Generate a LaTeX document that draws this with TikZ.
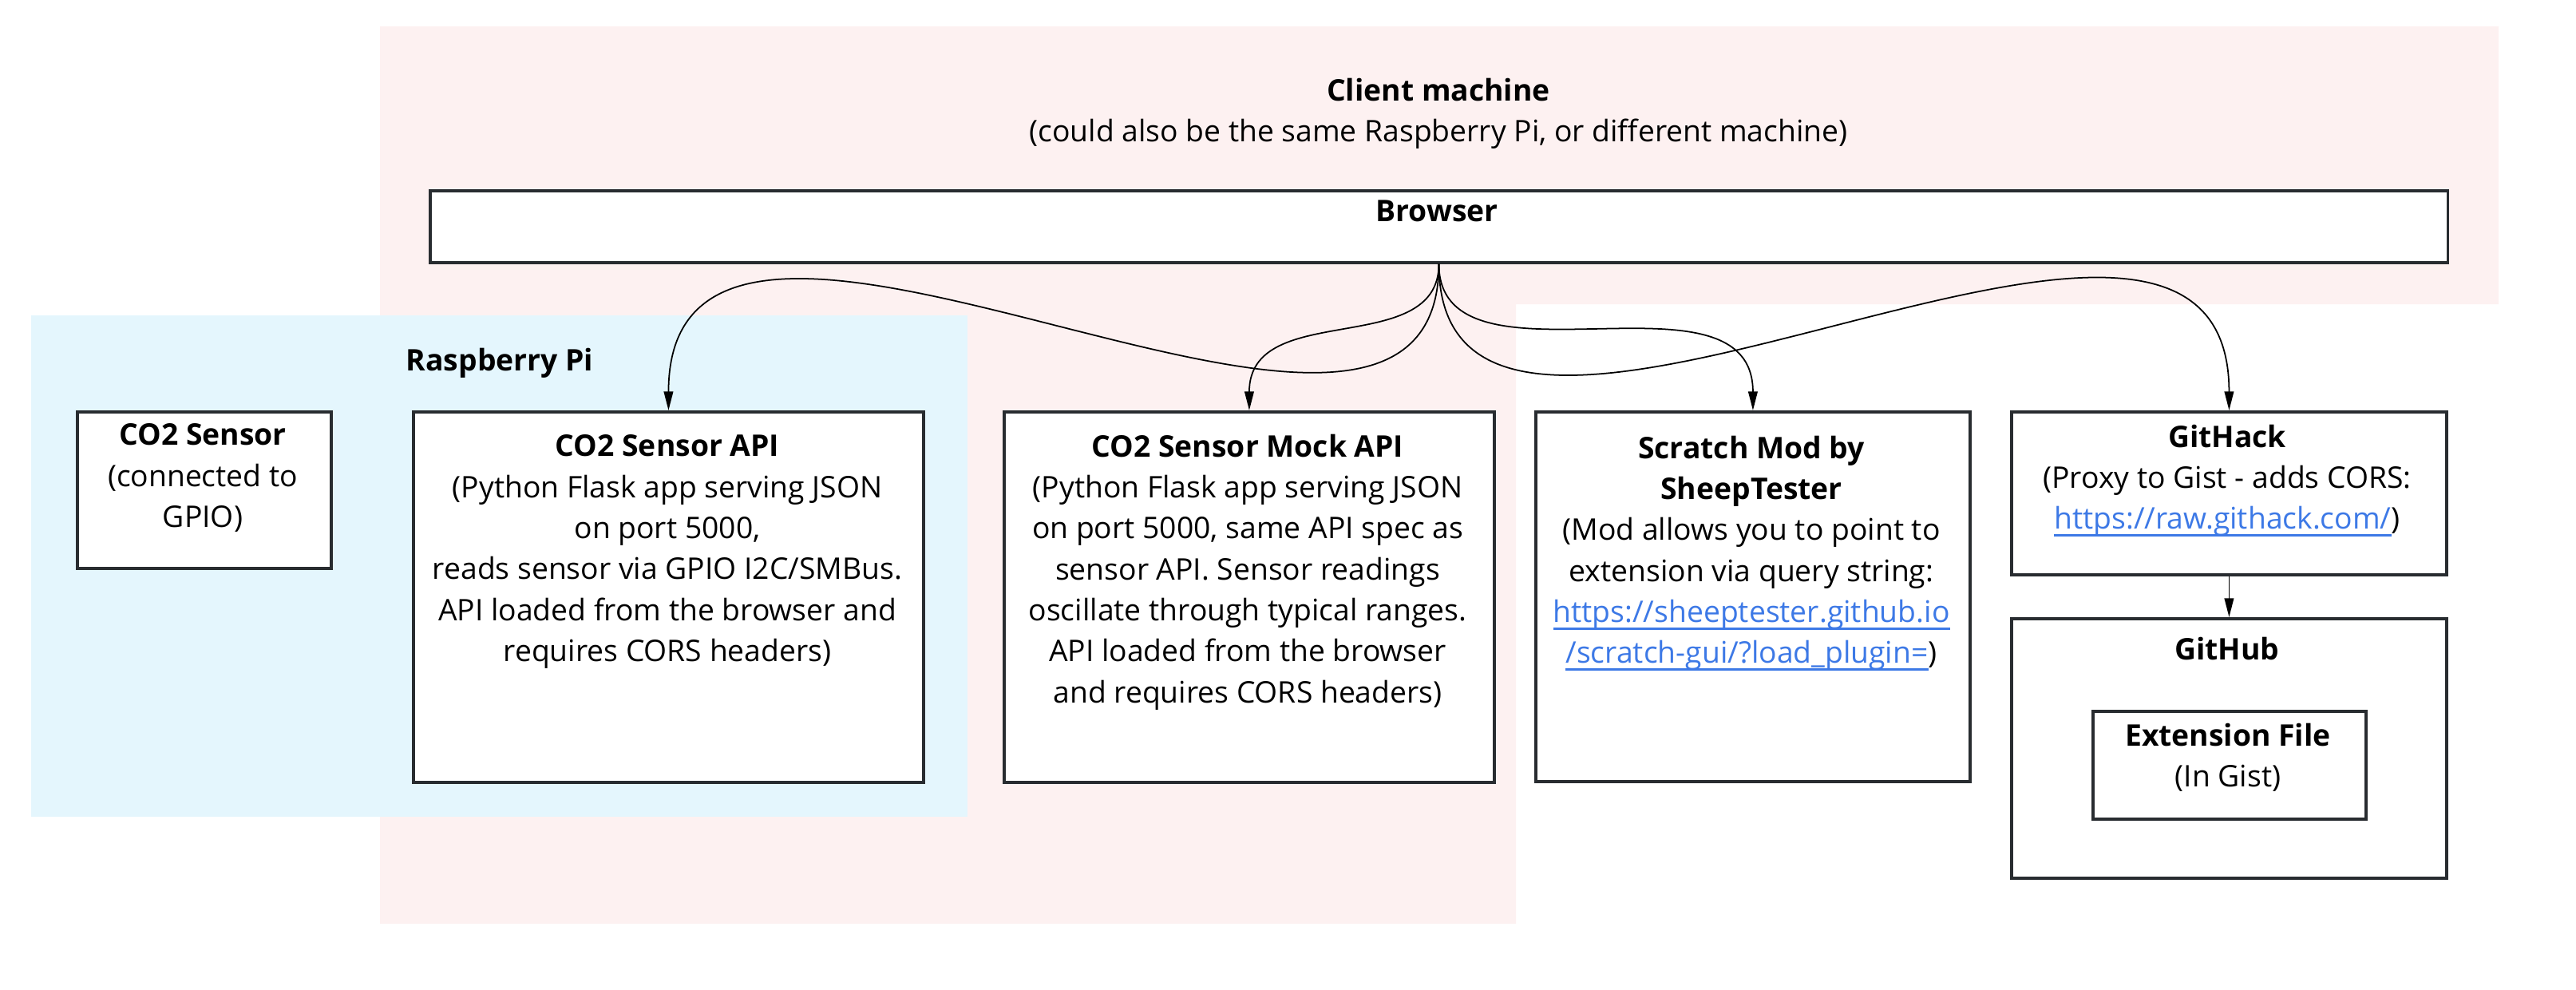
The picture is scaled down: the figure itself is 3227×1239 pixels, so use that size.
\documentclass[tikz,border=0pt]{standalone}
\usepackage{fontspec}
\setmainfont{Open Sans}
\usetikzlibrary{arrows.meta}
\definecolor{clientbg}{HTML}{FDF1F1}
\definecolor{pibg}{HTML}{E4F6FD}
\definecolor{linkblue}{HTML}{3D79E6}
\definecolor{edge}{HTML}{282C30}
\newsavebox\lnkbox
\newcommand\lnk[1]{\sbox\lnkbox{\color{linkblue}#1}\rlap{\color{linkblue}\rule[-2.6pt]{\wd\lnkbox}{0.8pt}}\usebox\lnkbox}
\newcommand\dfont{\fontsize{10.6pt}{14.6pt}\selectfont}
\begin{document}
\begin{tikzpicture}[x=0.01cm,y=-0.01cm,
  box/.style={draw=edge,line width=1pt,fill=white,anchor=north west,inner sep=0pt},
  txt/.style={anchor=north,align=center,inner sep=0pt,font=\dfont},
  conn/.style={line width=0.5pt,-{Triangle[length=6.7pt,width=3.3pt]}}]
\useasboundingbox (0,0) rectangle (3227,1239);
\fill[clientbg] (476,33) -- (3130,33) -- (3130,381) -- (1899,381) -- (1899,1157) -- (476,1157) -- cycle;
\fill[pibg] (39,395) rectangle (1212,1023);
\node[txt] (client) at (1802,97) {\textbf{Client machine}\\(could also be the same Raspberry Pi, or different machine)};
\node[box,minimum width=25.26cm,minimum height=0.9cm] (browser) at (537,237) {};
\node[txt] (browsertxt) at (1800,250) {\textbf{Browser}};
\node[txt] (pi) at (626,435) {\textbf{Raspberry Pi}};
\node[box,minimum width=3.18cm,minimum height=1.96cm] (sensor) at (95,514) {};
\node[txt] (sensortxt) at (254,530) {\textbf{CO2 Sensor}\\(connected to\\GPIO)};
\node[box,minimum width=6.39cm,minimum height=4.64cm] (api) at (516,514) {};
\node[txt] (apitxt) at (836,544) {\textbf{CO2 Sensor API}\\(Python Flask app serving JSON\\on port 5000,\\reads sensor via GPIO I2C/SMBus.\\API loaded from the browser and\\requires CORS headers)};
\node[box,minimum width=6.14cm,minimum height=4.64cm] (mock) at (1256,514) {};
\node[txt] (mocktxt) at (1563,543) {\textbf{CO2 Sensor Mock API}\\(Python Flask app serving JSON\\on port 5000, same API spec as\\sensor API. Sensor readings\\oscillate through typical ranges.\\API loaded from the browser\\and requires CORS headers)};
\node[box,minimum width=5.44cm,minimum height=4.63cm] (scratch) at (1922,514) {};
\node[txt] (scratchtxt) at (2194,545) {\textbf{Scratch Mod by}\\\textbf{SheepTester}\\(Mod allows you to point to\\extension via query string:\\\lnk{https://sheeptester.github.io}\\\lnk{/scratch-gui/?load\_plugin=})};
\node[box,minimum width=5.45cm,minimum height=2.04cm] (githack) at (2518,514) {};
\node[txt] (githacktxt) at (2790,531) {\textbf{GitHack}\\(Proxy to Gist - adds CORS:\\\lnk{https://raw.githack.com/})};
\node[box,minimum width=5.45cm,minimum height=3.25cm] (github) at (2518,773) {};
\node[txt] (githubtxt) at (2790,797) {\textbf{GitHub}};
\node[box,minimum width=3.42cm,minimum height=1.35cm] (ext) at (2620,889) {};
\node[txt] (exttxt) at (2791,905) {\textbf{Extension File}\\(In Gist)};
\draw[conn] (browser.south) .. controls +(0,400) and +(0,-433) .. (api.north);
\draw[conn] (browser.south) .. controls +(0,120) and +(0,-140) .. (mock.north);
\draw[conn] (browser.south) .. controls +(0,170) and +(0,-190) .. (scratch.north);
\draw[conn] (browser.south) .. controls +(0,410) and +(0,-440) .. (githack.north);
\draw[conn] (githack) -- (github);
\end{tikzpicture}
\end{document}
